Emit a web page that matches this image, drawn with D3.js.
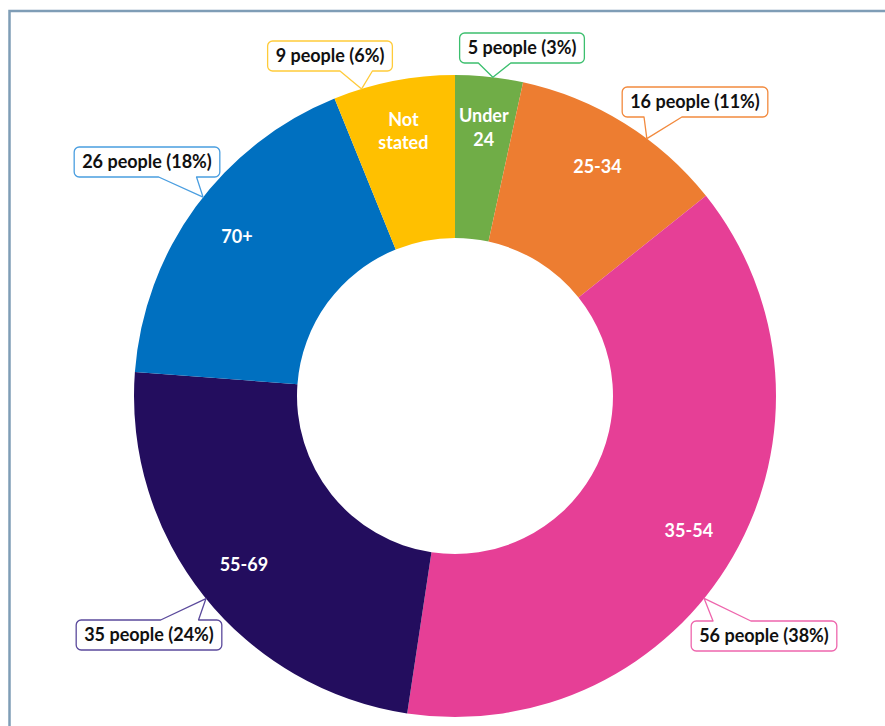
<!DOCTYPE html>
<html>
<head>
<meta charset="utf-8">
<script src="https://cdn.jsdelivr.net/npm/d3@7"></script>
<style>
  html, body { margin: 0; padding: 0; background: #ffffff; }
  svg { display: block; }
</style>
</head>
<body>
<script>
// Respondents by age group
const categories = ["Under 24", "25-34", "35-54", "55-69", "70+", "Not stated"];
const people = [5, 16, 56, 35, 26, 9];
const labelLines = [["Under", "24"], ["25-34"], ["35-54"], ["55-69"], ["70+"], ["Not", "stated"]];

// Styling for each slice and its callout
const sliceColors = ["#70ad47", "#ed7d31", "#e63f96", "#230d5e", "#0070c0", "#ffc000"];
const calloutColors = ["#3cbf6e", "#f28a3e", "#ee66ad", "#5b4a9c", "#4a9ee0", "#ffcb3a"];
// Callout box centres (px) and whether the pointer leaves from the top or bottom edge
const calloutCentres = [[522, 48], [695, 102], [764, 636], [149, 635], [147, 162], [330, 56]];
const calloutEdge = ["bottom", "bottom", "top", "top", "bottom", "bottom"];

const W = 885, H = 726;
const cx = 455, cy = 396;
const rOuter = 321, rInner = 158, rLabel = 270;

const svg = d3.select("body").append("svg").attr("width", W).attr("height", H);

// Frame around the chart area
svg.append("rect")
  .attr("x", 9.5).attr("y", 11)
  .attr("width", W + 20).attr("height", H + 20)
  .attr("fill", "none")
  .attr("stroke", "#7f9db6")
  .attr("stroke-width", 2.5);

const total = d3.sum(people);
const data = categories.map((c, i) => ({ cat: c, value: people[i], i }));

const pie = d3.pie().value(d => d.value).sort(null);
const arcs = pie(data);
const arc = d3.arc().innerRadius(rInner).outerRadius(rOuter);
const labelArc = d3.arc().innerRadius(rLabel).outerRadius(rLabel);

const g = svg.append("g").attr("transform", `translate(${cx},${cy})`);

g.selectAll("path.slice")
  .data(arcs)
  .join("path")
  .attr("class", "slice")
  .attr("d", arc)
  .attr("fill", d => sliceColors[d.data.i]);

// Category names inside the ring
const font = "Lato, 'Open Sans', sans-serif";
g.selectAll("text.cat")
  .data(arcs)
  .join("text")
  .attr("class", "cat")
  .attr("transform", d => `translate(${labelArc.centroid(d)})`)
  .attr("text-anchor", "middle")
  .attr("fill", "#ffffff")
  .attr("font-family", font)
  .attr("font-weight", 700)
  .attr("font-size", 18)
  .each(function (d) {
    const lines = labelLines[d.data.i];
    const lh = 23.5;
    const t = d3.select(this);
    lines.forEach((ln, k) => {
      t.append("tspan")
        .attr("x", 0)
        .attr("y", (k - (lines.length - 1) / 2) * lh)
        .attr("dy", "0.35em")
        .text(ln);
    });
  });

// Callout boxes with a wedge pointer to the outer edge of each slice
function calloutPath(x0, y0, x1, y1, r, edge, a, b, tip) {
  const p = d3.path();
  p.moveTo(x0 + r, y0);
  if (edge === "top") { p.lineTo(a, y0); p.lineTo(tip[0], tip[1]); p.lineTo(b, y0); }
  p.lineTo(x1 - r, y0);
  p.arcTo(x1, y0, x1, y0 + r, r);
  p.lineTo(x1, y1 - r);
  p.arcTo(x1, y1, x1 - r, y1, r);
  if (edge === "bottom") { p.lineTo(b, y1); p.lineTo(tip[0], tip[1]); p.lineTo(a, y1); }
  p.lineTo(x0 + r, y1);
  p.arcTo(x0, y1, x0, y1 - r, r);
  p.lineTo(x0, y0 + r);
  p.arcTo(x0, y0, x0 + r, y0, r);
  p.closePath();
  return p.toString();
}

const callouts = svg.append("g");
arcs.forEach(d => {
  const i = d.data.i;
  const pct = Math.round(d.data.value / total * 100);
  const txt = `${d.data.value} people (${pct}%)`;
  const [bx, by] = calloutCentres[i];
  const grp = callouts.append("g");
  const t = grp.append("text")
    .attr("x", bx).attr("y", by)
    .attr("dy", "0.36em")
    .attr("text-anchor", "middle")
    .attr("font-family", font)
    .attr("font-weight", 700)
    .attr("font-size", 18)
    .attr("fill", "#111111")
    .text(txt);
  const tw = t.node().getComputedTextLength();
  const w = tw + 16, h = 30;
  const x0 = bx - w / 2, x1 = bx + w / 2, y0 = by - h / 2, y1 = by + h / 2;
  const edge = calloutEdge[i];
  // pointer base sits on the side of the box facing the slice
  const sliceMid = (d.startAngle + d.endAngle) / 2;
  const towardRight = Math.sin(sliceMid) * rOuter + cx > bx;
  const f = towardRight ? 0.58 : 0.15;
  const a = x0 + w * f, b = x0 + w * (f + 0.26);
  const baseY = edge === "top" ? y0 : y1;
  // tip: point on the slice's outer edge facing the pointer base
  let ang = Math.atan2((a + b) / 2 - cx, -(baseY - cy));
  if (ang < 0) ang += 2 * Math.PI;
  const pad = 0.03;
  ang = Math.max(d.startAngle + pad, Math.min(d.endAngle - pad, ang));
  const tip = [cx + Math.sin(ang) * rOuter, cy - Math.cos(ang) * rOuter];
  grp.insert("path", "text")
    .attr("d", calloutPath(x0, y0, x1, y1, 5, edge, a, b, tip))
    .attr("fill", "#ffffff")
    .attr("stroke", calloutColors[i])
    .attr("stroke-width", 1.3)
    .attr("stroke-linejoin", "round");
});
</script>
</body>
</html>
